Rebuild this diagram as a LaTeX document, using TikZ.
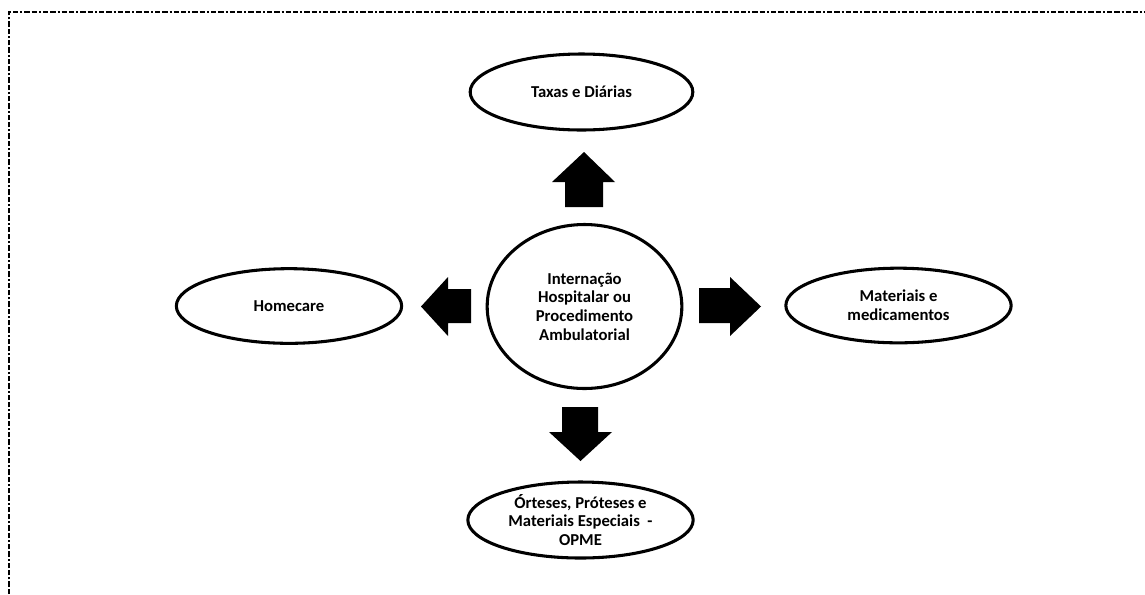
\documentclass[tikz,border=0pt]{standalone}
\usepackage{fontspec}
\setmainfont{Carlito}
\usetikzlibrary{shapes.geometric}
\tikzset{
  oval/.style={ellipse, draw=black, line width=2.3pt, fill=white, inner sep=0pt,
    align=center, font=\fontsize{12.5}{14}\selectfont\bfseries},
  blockarrow/.style={fill=black, draw=none},
  frameline/.style={line width=1.6pt, dash pattern=on 4pt off 1.5pt on 4pt off 1.5pt on 1.5pt off 1.5pt}
}
\begin{document}
\begin{tikzpicture}[x=0.75pt, y=-0.75pt]
\useasboundingbox (0,0) rectangle (1145,594);
% frame
\draw[frameline] (9,594) -- (9,12) -- (1145,12);
% nodes
\node[oval, minimum width=146pt, minimum height=123pt] (center) at (584.5,306.5)
  {Internação\\Hospitalar ou\\Procedimento\\Ambulatorial};
\node[oval, minimum width=167pt, minimum height=57pt] (taxas) at (581.5,92) {Taxas e Diárias};
\node[oval, minimum width=169pt, minimum height=56pt] (home) at (289,306) {Homecare};
\node[oval, minimum width=169pt, minimum height=56pt] (mat) at (898.5,305.5) {Materiais e\\medicamentos};
\node[oval, minimum width=169pt, minimum height=57pt] (opme) at (580.5,520) {Órteses, Próteses e\\Materiais Especiais \ -\\OPME};
% block arrows
\fill[blockarrow] (565,207) -- (565,182) -- (552,182) -- (584,152) -- (615,182) -- (603,182) -- (603,207) -- cycle;
\fill[blockarrow] (562,407) -- (598,407) -- (598,432) -- (612,432) -- (580.5,461) -- (549,432) -- (562,432) -- cycle;
\fill[blockarrow] (471,289) -- (448,289) -- (448,277) -- (421,306.5) -- (448,336) -- (448,323) -- (471,323) -- cycle;
\fill[blockarrow] (699,288) -- (730,288) -- (730,277) -- (761,306.5) -- (730,336) -- (730,323) -- (699,323) -- cycle;
\end{tikzpicture}
\end{document}
